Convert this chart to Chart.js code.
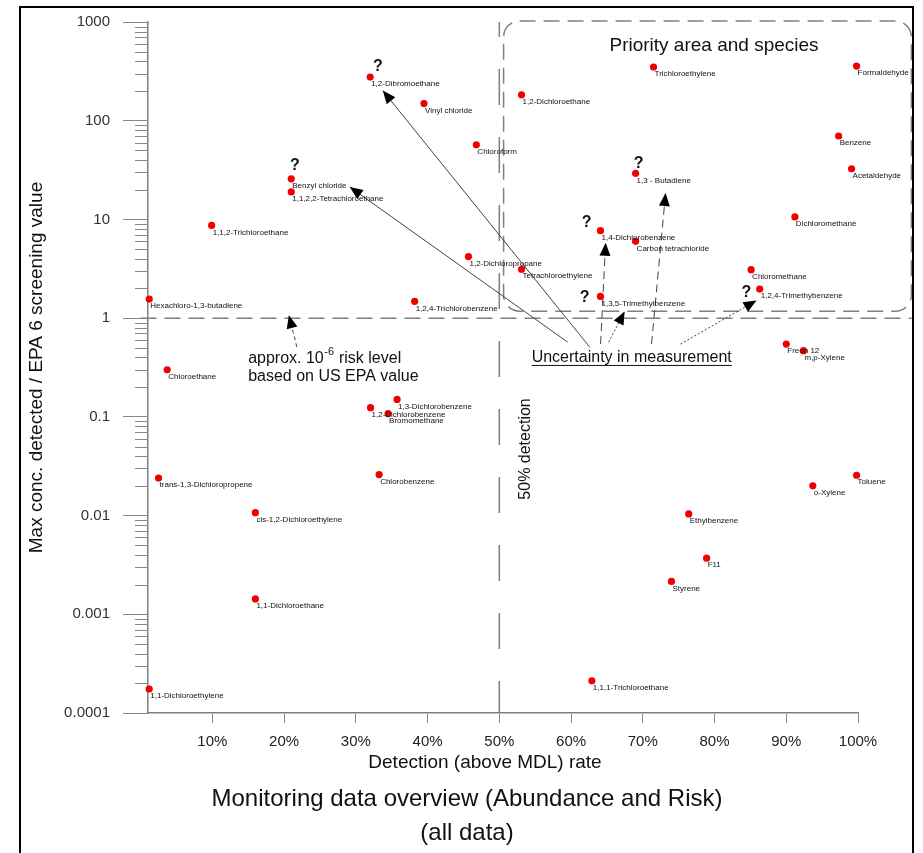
<!DOCTYPE html>
<html lang="en">
<head>
<meta charset="UTF-8">
<title>Monitoring data overview (Abundance and Risk)</title>
<script src="https://cdn.jsdelivr.net/npm/chart.js@4"></script>
<style>
  html, body { margin: 0; padding: 0; background: #fff; }
  #wrap { width: 923px; height: 853px; }
</style>
</head>
<body>
<div id="wrap"><canvas id="chart" width="923" height="853"></canvas></div>
<script>
// species, detection rate (fraction above MDL), max conc. detected / EPA screening value
const species = [
  '1,2-Dibromoethane', 'Vinyl chloride', 'Chloroform', 'Benzyl chloride',
  '1,1,2,2-Tetrachloroethane', '1,1,2-Trichloroethane', '1,2-Dichloropropane',
  'Hexachloro-1,3-butadiene', '1,2,4-Trichlorobenzene', 'Trichloroethylene',
  'Formaldehyde', '1,2-Dichloroethane', 'Benzene', 'Acetaldehyde', '1,3 - Butadiene',
  'Dichloromethane', '1,4-Dichlorobenzene', 'Carbon tetrachloride', 'Tetrachloroethylene',
  'Chloromethane', '1,2,4-Trimethybenzene', '1,3,5-Trimethylbenzene', 'Chloroethane',
  '1,3-Dichlorobenzene', '1,2-Dichlorobenzene', 'Bromomethane', 'trans-1,3-Dichloropropene',
  'Chlorobenzene', 'cis-1,2-Dichloroethylene', 'Freon 12', 'm,p-Xylene', 'Toluene',
  'o-Xylene', 'Ethylbenzene', 'F11', 'Styrene', '1,1,1-Trichloroethane',
  '1,1-Dichloroethane', '1,1-Dichloroethylene'
];
const detectionRate = [
  0.320, 0.395, 0.468, 0.210,
  0.210, 0.099, 0.457,
  0.012, 0.382, 0.715,
  0.998, 0.531, 0.973, 0.991, 0.690,
  0.912, 0.641, 0.690, 0.531,
  0.851, 0.863, 0.641, 0.037,
  0.3575, 0.3205, 0.345, 0.025,
  0.3325, 0.160, 0.900, 0.924, 0.998,
  0.937, 0.764, 0.789, 0.740, 0.629,
  0.160, 0.012
];
const riskRatio = [
  277, 149, 57, 25.8,
  19.0, 8.7, 4.2,
  1.56, 1.48, 350,
  358, 183, 70, 32.6, 29.3,
  10.6, 7.7, 6.0, 3.13,
  3.1, 1.97, 1.66, 0.30,
  0.150, 0.124, 0.108, 0.024,
  0.026, 0.0107, 0.546, 0.468, 0.0256,
  0.020, 0.0104, 0.0037, 0.00215, 0.000212,
  0.00143, 0.000175
];
const xTickValues = [0.1, 0.2, 0.3, 0.4, 0.5, 0.6, 0.7, 0.8, 0.9, 1.0];
const yTickValues = [0.0001, 0.001, 0.01, 0.1, 1, 10, 100, 1000];
const yTickLabels = ['0.0001', '0.001', '0.01', '0.1', '1', '10', '100', '1000'];

// annotations, in data units (detection rate, ratio)
const arrows = [
  { from: [0.626, 0.509], to: [0.3376, 202], dash: [] },
  { from: [0.5953, 0.571], to: [0.2916, 21.3], dash: [] },
  { from: [0.6412, 0.546], to: [0.6482, 5.81], dash: [8, 5] },
  { from: [0.7122, 0.546], to: [0.7318, 18.5], dash: [8, 5] },
  { from: [0.6524, 0.571], to: [0.6747, 1.17], dash: [2, 2] },
  { from: [0.7526, 0.546], to: [0.8585, 1.51], dash: [2, 2] },
  { from: [0.2178, 0.509], to: [0.2067, 1.07], dash: [4, 3] }
];
const questionMarks = [
  [0.3308, 352], [0.215, 35.5], [0.6942, 37.2], [0.6217, 9.24], [0.619, 1.62], [0.8445, 1.82]
];

const FONT = '"Liberation Sans", Arial, sans-serif';

function arrowHead(ctx, x0, y0, x1, y1) {
  const a = Math.atan2(y1 - y0, x1 - x0);
  const len = 13, half = 5.5;
  ctx.beginPath();
  ctx.moveTo(x1, y1);
  ctx.lineTo(x1 - len * Math.cos(a) + half * Math.sin(a), y1 - len * Math.sin(a) - half * Math.cos(a));
  ctx.lineTo(x1 - len * Math.cos(a) - half * Math.sin(a), y1 - len * Math.sin(a) + half * Math.cos(a));
  ctx.closePath();
  ctx.fill();
}

const overlay = {
  id: 'overlay',
  beforeDraw(chart) {
    const ctx = chart.ctx;
    ctx.save();
    ctx.fillStyle = '#fff';
    ctx.fillRect(0, 0, chart.width, chart.height);
    ctx.restore();
  },
  beforeDatasetsDraw(chart) {
    const { ctx, chartArea: ca, scales: { x, y } } = chart;
    ctx.save();

    // minor log ticks
    ctx.strokeStyle = '#888';
    ctx.lineWidth = 1;
    for (let d = 0.0001; d < 1000; d *= 10) {
      for (let k = 2; k <= 9; k++) {
        const py = Math.round(y.getPixelForValue(k * d)) + 0.5;
        ctx.beginPath();
        ctx.moveTo(ca.left - 13, py);
        ctx.lineTo(ca.left, py);
        ctx.stroke();
      }
    }

    // 10^-6 risk level line
    ctx.strokeStyle = '#808080';
    ctx.lineWidth = 1.5;
    ctx.setLineDash([16, 8]);
    const y1 = y.getPixelForValue(1);
    ctx.beginPath();
    ctx.moveTo(x.getPixelForValue(0), y1);
    ctx.lineTo(x.getPixelForValue(1.075), y1);
    ctx.stroke();

    // priority area box
    const bx0 = x.getPixelForValue(0.506), bx1 = x.getPixelForValue(1.0744);
    const by0 = y.getPixelForValue(1023), by1 = y.getPixelForValue(1.175);
    ctx.beginPath();
    ctx.roundRect(bx0, by0, bx1 - bx0, by1 - by0, 16);
    ctx.stroke();

    // 50% detection line
    ctx.setLineDash([36, 32]);
    ctx.lineDashOffset = 21;
    const x50 = x.getPixelForValue(0.5);
    ctx.beginPath();
    ctx.moveTo(x50, ca.top);
    ctx.lineTo(x50, ca.bottom);
    ctx.stroke();
    ctx.lineDashOffset = 0;

    // arrows
    ctx.strokeStyle = '#444';
    ctx.fillStyle = '#000';
    ctx.lineWidth = 1;
    arrows.forEach(a => {
      const x0 = x.getPixelForValue(a.from[0]), y0 = y.getPixelForValue(a.from[1]);
      const x1 = x.getPixelForValue(a.to[0]), y1a = y.getPixelForValue(a.to[1]);
      ctx.setLineDash(a.dash);
      ctx.beginPath();
      ctx.moveTo(x0, y0);
      ctx.lineTo(x1, y1a);
      ctx.stroke();
      ctx.setLineDash([]);
      arrowHead(ctx, x0, y0, x1, y1a);
    });
    ctx.restore();
  },
  afterDatasetsDraw(chart) {
    const { ctx, chartArea: ca, scales: { x, y } } = chart;
    ctx.save();

    // point labels
    ctx.fillStyle = '#111';
    ctx.font = '8px ' + FONT;
    ctx.textAlign = 'left';
    ctx.textBaseline = 'middle';
    species.forEach((s, i) => {
      const px = x.getPixelForValue(detectionRate[i]);
      const py = y.getPixelForValue(riskRatio[i]);
      ctx.fillText(s, px + 1, py + 7);
    });

    // question marks
    ctx.font = 'bold 16px ' + FONT;
    ctx.textAlign = 'center';
    questionMarks.forEach(q => {
      ctx.fillText('?', x.getPixelForValue(q[0]), y.getPixelForValue(q[1]));
    });

    // annotation texts
    ctx.fillStyle = '#111';
    ctx.textBaseline = 'alphabetic';
    ctx.textAlign = 'center';
    ctx.font = '19px ' + FONT;
    ctx.fillText('Priority area and species', x.getPixelForValue(0.7993), y.getPixelForValue(511));

    ctx.textAlign = 'left';
    ctx.font = '16px ' + FONT;
    const ax = x.getPixelForValue(0.1499), ay = y.getPixelForValue(0.3516);
    let t = 'approx. 10';
    ctx.fillText(t, ax, ay);
    let w = ctx.measureText(t).width;
    ctx.font = '11px ' + FONT;
    ctx.fillText('-6', ax + w + 0.5, ay - 8);
    const w2 = ctx.measureText('-6').width;
    ctx.font = '16px ' + FONT;
    ctx.fillText(' risk level', ax + w + w2 + 1, ay);
    ctx.fillText('based on US EPA value', ax, ay + 18);

    const ux = x.getPixelForValue(0.5451), uy = y.getPixelForValue(0.36);
    const ut = 'Uncertainty in measurement';
    ctx.fillText(ut, ux, uy);
    ctx.strokeStyle = '#111';
    ctx.lineWidth = 1;
    ctx.beginPath();
    ctx.moveTo(ux, uy + 3.5);
    ctx.lineTo(ux + ctx.measureText(ut).width, uy + 3.5);
    ctx.stroke();

    ctx.save();
    ctx.translate(x.getPixelForValue(0.536), y.getPixelForValue(0.0473));
    ctx.rotate(-Math.PI / 2);
    ctx.textAlign = 'center';
    ctx.textBaseline = 'middle';
    ctx.fillText('50% detection', 0, 0);
    ctx.restore();

    // axis titles and chart title
    ctx.textAlign = 'center';
    ctx.textBaseline = 'alphabetic';
    ctx.font = '19px ' + FONT;
    ctx.fillText('Detection (above MDL) rate', 485, 768);
    ctx.save();
    ctx.translate(42, (ca.top + ca.bottom) / 2);
    ctx.rotate(-Math.PI / 2);
    ctx.fillText('Max conc. detected / EPA 6 screening value', 0, 0);
    ctx.restore();

    ctx.font = '24px ' + FONT;
    ctx.fillText('Monitoring data overview (Abundance and Risk)', 467, 806);
    ctx.fillText('(all data)', 467, 840);

    // frame
    ctx.strokeStyle = '#000';
    ctx.lineWidth = 2;
    ctx.strokeRect(20, 7, 893, 847);
    ctx.restore();
  }
};

new Chart(document.getElementById('chart'), {
  type: 'scatter',
  data: {
    datasets: [{
      data: species.map((s, i) => ({ x: detectionRate[i], y: riskRatio[i] })),
      backgroundColor: '#f00000',
      borderWidth: 0,
      pointRadius: 3.6,
      clip: false
    }]
  },
  options: {
    responsive: false,
    animation: false,
    events: [],
    layout: { padding: { left: 0, right: 65, top: 18, bottom: 0 } },
    plugins: { legend: { display: false }, tooltip: { enabled: false } },
    scales: {
      x: {
        type: 'linear',
        min: 0.0103,
        max: 1.0,
        afterBuildTicks: s => { s.ticks = xTickValues.map(v => ({ value: v })); },
        afterFit: s => { s.height = 140; },
        ticks: {
          autoSkip: false,
          maxRotation: 0,
          padding: 10,
          color: '#222',
          font: { family: FONT, size: 15 },
          callback: v => Math.round(v * 100) + '%'
        },
        grid: { drawOnChartArea: false, tickLength: 10, color: '#888' },
        border: { color: '#808080', width: 1.5 }
      },
      y: {
        type: 'logarithmic',
        min: 0.0001,
        max: 1000,
        afterBuildTicks: s => { s.ticks = yTickValues.map(v => ({ value: v })); },
        afterFit: s => { s.width = 148; },
        ticks: {
          autoSkip: false,
          padding: 13,
          color: '#333',
          font: { family: FONT, size: 15 },
          callback: (v, i) => yTickLabels[i]
        },
        grid: { drawOnChartArea: false, tickLength: 25, color: '#888' },
        border: { color: '#808080', width: 1.5 }
      }
    }
  },
  plugins: [overlay]
});
</script>
</body>
</html>
